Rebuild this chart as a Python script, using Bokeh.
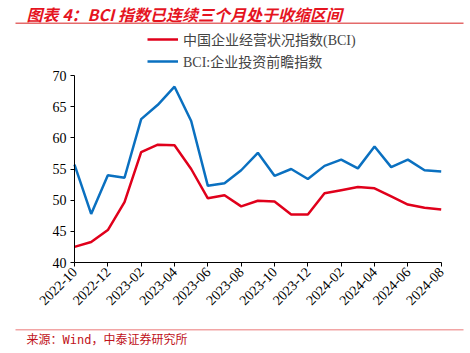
from bokeh.plotting import figure
from bokeh.models import (Range1d, FixedTicker, Label, Legend, LegendItem, ColumnDataSource,
                          LinearAxis, BoxAnnotation)
from bokeh.embed import file_html
from bokeh.resources import INLINE
import math

months = ["2022-10", "2022-11", "2022-12", "2023-01", "2023-02", "2023-03", "2023-04",
          "2023-05", "2023-06", "2023-07", "2023-08", "2023-09", "2023-10", "2023-11",
          "2023-12", "2024-01", "2024-02", "2024-03", "2024-04", "2024-05", "2024-06",
          "2024-07", "2024-08"]
bci = [42.5, 43.3, 45.2, 49.7, 57.7, 58.9, 58.8, 55.0, 50.3, 50.8, 49.0, 49.9,
       49.8, 47.7, 47.7, 51.1, 51.6, 52.1, 51.9, 50.6, 49.3, 48.8, 48.5]
invest = [55.7, 47.8, 54.0, 53.6, 63.0, 65.3, 68.2, 62.7, 52.3, 52.7, 54.8, 57.6,
          53.9, 55.0, 53.4, 55.5, 56.5, 55.1, 58.6, 55.3, 56.5, 54.8, 54.6]
y_ticks = [40, 45, 50, 55, 60, 65, 70]
name_bci = "中国企业经营状况指数(BCI)"
name_inv = "BCI:企业投资前瞻指数"
title_text = "图表 4：BCI 指数已连续三个月处于收缩区间"
source_text = "来源：Wind，中泰证券研究所"

SERIF = "'Liberation Serif', 'Noto Sans CJK SC'"
W, H = 470, 353
# pixel layout of the plotting area inside the canvas
PX_L, PX_R, PX_T, PX_B = 74, 440.7, 75, 262
n = len(months)
ymin, ymax = y_ticks[0], y_ticks[-1]
xpu = (PX_R - PX_L) / (n - 1)
ypu = (PX_B - PX_T) / (ymax - ymin)

xs = list(range(n))
src = ColumnDataSource(dict(x=xs, bci=bci, inv=invest))

p = figure(width=W, height=H, output_backend="svg", toolbar_location=None,
           min_border=0, title_location=None, x_axis_location=None, y_axis_location=None,
           x_range=Range1d(-PX_L / xpu, (n - 1) + (W - PX_R) / xpu),
           y_range=Range1d(ymin - (H - PX_B) / ypu, ymax + PX_T / ypu))
p.outline_line_color = None
p.xgrid.visible = False
p.ygrid.visible = False

r1 = p.line("x", "bci", source=src, line_color="#e0001b", line_width=2.5)
r2 = p.line("x", "inv", source=src, line_color="#0a70c0", line_width=2.5)

xaxis = LinearAxis(fixed_location=ymin, bounds=(0, n - 1),
                   ticker=FixedTicker(ticks=xs[::2]),
                   major_label_overrides={i: months[i] for i in xs},
                   major_label_orientation=math.pi / 4, major_label_standoff=3)
yaxis = LinearAxis(fixed_location=0, bounds=(ymin, ymax),
                   ticker=FixedTicker(ticks=y_ticks), major_label_standoff=4)
for ax in (xaxis, yaxis):
    ax.axis_line_color = "black"
    ax.axis_line_width = 1
    ax.major_tick_line_color = "black"
    ax.major_tick_in = 0
    ax.major_tick_out = 4
    ax.minor_tick_line_color = None
    ax.major_label_text_font = SERIF
    ax.major_label_text_font_size = "14px"
    ax.major_label_text_color = "black"
p.add_layout(xaxis, "below")
p.add_layout(yaxis, "left")

legend = Legend(items=[LegendItem(label=name_bci, renderers=[r1]),
                       LegendItem(label=name_inv, renderers=[r2])],
                location=(147, H - 71), orientation="vertical",
                label_text_font=SERIF, label_text_font_size="14px",
                glyph_width=31, glyph_height=18, label_standoff=5, spacing=2,
                padding=0, margin=0, border_line_color=None, background_fill_alpha=0,
                label_height=18)
p.add_layout(legend, "center")

p.add_layout(Label(x=26, y=H - 13, x_units="screen", y_units="screen", text=title_text,
                   text_font="'Noto Sans CJK SC'", text_font_style="bold italic",
                   text_font_size="16px", text_color="#e5141f", text_baseline="middle"))
p.add_layout(BoxAnnotation(left=15, right=463, top=H - 22, bottom=H - 23.5,
                           left_units="screen", right_units="screen",
                           top_units="screen", bottom_units="screen",
                           fill_color="#e46a6a", fill_alpha=1, line_color=None))
p.add_layout(BoxAnnotation(left=15, right=463, top=H - 328.5, bottom=H - 330,
                           left_units="screen", right_units="screen",
                           top_units="screen", bottom_units="screen",
                           fill_color="#f2a5a5", fill_alpha=1, line_color=None))
p.add_layout(Label(x=26, y=H - 339, x_units="screen", y_units="screen", text=source_text,
                   text_font="'DejaVu Sans Mono', 'Noto Sans CJK SC'",
                   text_font_size="12px", text_color="#c0121a", text_baseline="middle"))

open("out.html", "w").write(file_html(p, INLINE))
